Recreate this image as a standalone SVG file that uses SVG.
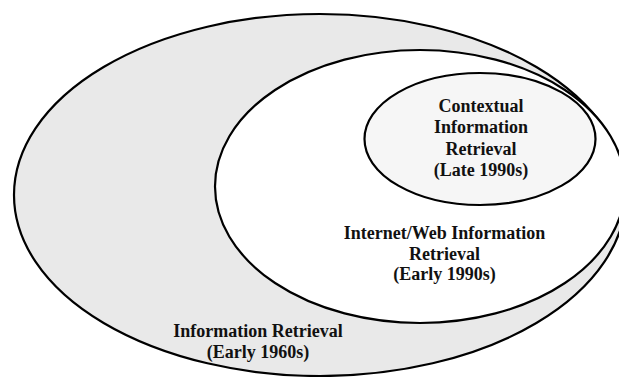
<svg xmlns="http://www.w3.org/2000/svg" width="619" height="377" viewBox="0 0 619 377">
<style>
.e{stroke:#000;stroke-width:2.2}
.t{font-family:"Liberation Serif","Times New Roman",serif;font-weight:bold;font-size:18px;fill:#111;text-anchor:middle}
</style>
<rect width="619" height="377" fill="#fff"/>
<g id="node-ir">
<ellipse class="e" cx="320" cy="195" rx="306" ry="181" fill="#e9e9e9"/>
<text class="t" x="258" y="337">Information Retrieval</text>
<text class="t" x="258" y="358">(Early 1960s)</text>
</g>
<g id="node-web">
<ellipse class="e" cx="420" cy="186.5" rx="205" ry="136.5" fill="#fff"/>
<text class="t" x="444.5" y="239">Internet/Web Information</text>
<text class="t" x="444.5" y="260">Retrieval</text>
<text class="t" x="444.5" y="280">(Early 1990s)</text>
</g>
<g id="node-ctx">
<ellipse class="e" cx="480" cy="139" rx="115.5" ry="66" fill="#f6f6f6"/>
<text class="t" x="481" y="112">Contextual</text>
<text class="t" x="481" y="133">Information</text>
<text class="t" x="481" y="155">Retrieval</text>
<text class="t" x="481" y="176">(Late 1990s)</text>
</g>
<g id="connectors"></g>
</svg>
